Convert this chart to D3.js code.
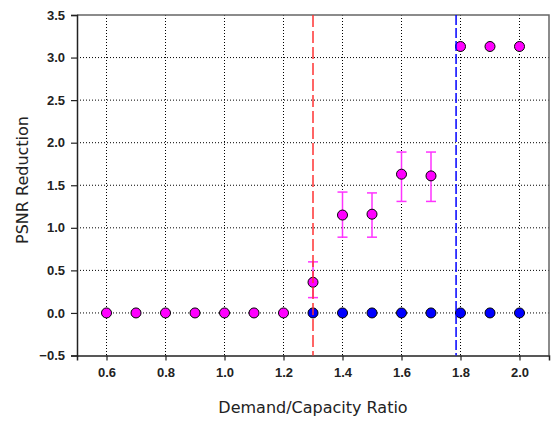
<!DOCTYPE html>
<html>
<head>
<meta charset="utf-8">
<script src="https://cdn.jsdelivr.net/npm/d3@7"></script>
<style>
  body { margin: 0; background: #fff; }
</style>
</head>
<body>
<script>
// data
var ratios = [0.6, 0.7, 0.8, 0.9, 1.0, 1.1, 1.2, 1.3, 1.4, 1.5, 1.6, 1.7, 1.8, 1.9, 2.0];
var pinkVals = [0, 0, 0, 0, 0, 0, 0, 0.36, 1.15, 1.16, 1.63, 1.61, 3.13, 3.13, 3.13];
var errLow = [null, null, null, null, null, null, null, 0.18, 0.89, 0.89, 1.31, 1.31, null, null, null];
var errHigh = [null, null, null, null, null, null, null, 0.60, 1.42, 1.41, 1.89, 1.89, null, null, null];
var blueRatios = [1.3, 1.4, 1.5, 1.6, 1.7, 1.8, 1.9, 2.0];
var blueVals = [0, 0, 0, 0, 0, 0, 0, 0];
var xTicks = [0.6, 0.8, 1.0, 1.2, 1.4, 1.6, 1.8, 2.0];
var yTicks = [-0.5, 0, 0.5, 1.0, 1.5, 2.0, 2.5, 3.0, 3.5];
var redLine = 1.3, blueLine = 1.785;

window.onload = function(){
    var w = 552, h = 423;
    var left = 77, right = 549, top = 15, bottom = 355.5;

    var svg = d3.select("body").append("svg")
        .attr("width", w)
        .attr("height", h);

    var x = d3.scaleLinear().domain([0.5, 2.1]).range([left, right]);
    var y = d3.scaleLinear().domain([-0.5, 3.5]).range([bottom, top]);

    // dotted grid
    svg.append("g").selectAll("line")
        .data(xTicks).enter().append("line")
        .attr("x1", function(d){ return x(d); })
        .attr("x2", function(d){ return x(d); })
        .attr("y1", top).attr("y2", bottom)
        .style("stroke", "#000").style("stroke-width", 1)
        .style("stroke-dasharray", "1,2");
    svg.append("g").selectAll("line")
        .data(yTicks.filter(function(d){ return d > -0.5 && d < 3.5; }))
        .enter().append("line")
        .attr("x1", left).attr("x2", right)
        .attr("y1", function(d){ return y(d); })
        .attr("y2", function(d){ return y(d); })
        .style("stroke", "#000").style("stroke-width", 1)
        .style("stroke-dasharray", "1,2");

    // frame top and right
    svg.append("path")
        .attr("d", "M" + left + "," + top + "H" + right + "V" + bottom)
        .style("fill", "none").style("stroke", "#666").style("stroke-width", 1.5);

    // axes
    var xAxis = svg.append("g").attr("transform", "translate(0," + bottom + ")")
        .call(d3.axisBottom(x).tickValues(xTicks).tickFormat(d3.format(".1f")).tickSizeOuter(0).tickSize(5).tickPadding(7));
    var yAxis = svg.append("g").attr("transform", "translate(" + left + ",0)")
        .call(d3.axisLeft(y).tickValues(yTicks).tickFormat(d3.format(".1f")).tickSizeOuter(0).tickSize(6).tickPadding(6));
    [xAxis, yAxis].forEach(function(a){
        a.attr("font-family", "'Liberation Sans', Arial, sans-serif").attr("font-size", 13);
        a.select(".domain").style("stroke", "#222").style("stroke-width", 1.5);
        a.selectAll(".tick line").style("stroke", "#222").style("stroke-width", 1.2);
        a.selectAll(".tick text").style("font-weight", "bold").style("fill", "#222");
    });

    // error bars
    var errData = ratios.map(function(r, i){ return {r: r, lo: errLow[i], hi: errHigh[i]}; })
        .filter(function(d){ return d.lo !== null; });
    var eb = svg.append("g").selectAll("g").data(errData).enter().append("g")
        .style("stroke", "#ff33ff").style("stroke-width", 1.5);
    eb.append("line")
        .attr("x1", function(d){ return x(d.r); }).attr("x2", function(d){ return x(d.r); })
        .attr("y1", function(d){ return y(d.lo); }).attr("y2", function(d){ return y(d.hi); });
    eb.append("line")
        .attr("x1", function(d){ return x(d.r) - 5; }).attr("x2", function(d){ return x(d.r) + 5; })
        .attr("y1", function(d){ return y(d.lo); }).attr("y2", function(d){ return y(d.lo); });
    eb.append("line")
        .attr("x1", function(d){ return x(d.r) - 5; }).attr("x2", function(d){ return x(d.r) + 5; })
        .attr("y1", function(d){ return y(d.hi); }).attr("y2", function(d){ return y(d.hi); });

    // points
    svg.append("g").selectAll("circle")
        .data(ratios).enter().append("circle")
        .attr("cx", function(d){ return x(d); })
        .attr("cy", function(d, i){ return y(pinkVals[i]); })
        .attr("r", 5)
        .style("fill", "#ff00ff").style("stroke", "#000").style("stroke-width", 1);
    svg.append("g").selectAll("circle")
        .data(blueRatios).enter().append("circle")
        .attr("cx", function(d){ return x(d); })
        .attr("cy", function(d, i){ return y(blueVals[i]); })
        .attr("r", 5)
        .style("fill", "#0000ff").style("stroke", "#000").style("stroke-width", 1);

    // threshold lines
    svg.append("line")
        .attr("x1", x(redLine)).attr("x2", x(redLine))
        .attr("y1", top).attr("y2", bottom)
        .style("stroke", "#ff3333").style("stroke-width", 1.5)
        .style("stroke-dasharray", "12,4");
    svg.append("line")
        .attr("x1", x(blueLine)).attr("x2", x(blueLine))
        .attr("y1", top).attr("y2", bottom)
        .style("stroke", "#0000ff").style("stroke-width", 1.5)
        .style("stroke-dasharray", "10,3");

    // axis titles
    svg.append("text")
        .attr("text-anchor", "middle")
        .attr("x", (left + right) / 2).attr("y", 413)
        .style("font-family", "'DejaVu Sans', Tahoma, sans-serif").style("font-size", "16px").style("fill", "#222")
        .text("Demand/Capacity Ratio");
    svg.append("text")
        .attr("text-anchor", "middle")
        .attr("transform", "translate(28,180) rotate(-90)")
        .style("font-family", "'DejaVu Sans', Tahoma, sans-serif").style("font-size", "16px").style("fill", "#222")
        .text("PSNR Reduction");
};
</script>
</body>
</html>
